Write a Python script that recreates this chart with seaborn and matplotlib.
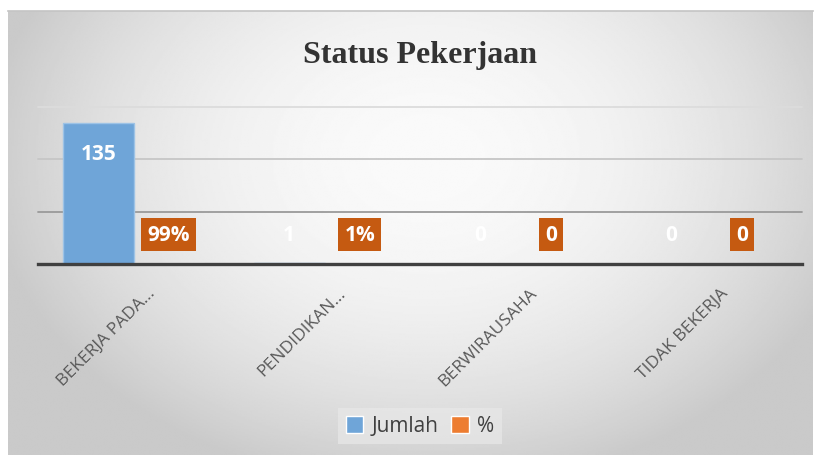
import numpy as np
import pandas as pd
import matplotlib
matplotlib.use("Agg")
import matplotlib.pyplot as plt
import matplotlib.transforms as mtransforms
import seaborn as sns

# data
kategori = ["BEKERJA PADA...", "PENDIDIKAN...", "BERWIRAUSAHA", "TIDAK BEKERJA"]
jumlah = [135, 1, 0, 0]
persen = [0.99, 0.01, 0, 0]
persen_label = ["99%", "1%", "0", "0"]
seri = ["Jumlah", "%"]
warna = {"Jumlah": "#6FA5D8", "%": "#ED7D31"}

df = pd.DataFrame({
    "kategori": kategori * 2,
    "seri": [seri[0]] * len(kategori) + [seri[1]] * len(kategori),
    "nilai": jumlah + persen,
})

sns.set_style("white")
plt.rcParams["font.family"] = ["Open Sans", "DejaVu Sans"]

W, H = 818, 456
fig = plt.figure(figsize=(W / 100, H / 100), dpi=100, facecolor="white")

# chart area with a soft radial gradient, like the Excel style
bg = fig.add_axes([8 / W, 0, (813 - 8) / W, (H - 12) / H], zorder=0)
yy, xx = np.mgrid[0:1:300j, 0:1:500j]
r = np.sqrt(((xx - 0.52) / 0.55) ** 2 + ((yy - 0.33) / 0.75) ** 2)
shade = np.clip(0.98 - 0.19 * r ** 2, 0.79, 1.0)
bg.imshow(shade, cmap="gray", vmin=0, vmax=1, extent=(0, 1, 0, 1), aspect="auto")
bg.set_xticks([])
bg.set_yticks([])
for side in ["left", "right", "bottom"]:
    bg.spines[side].set_visible(False)
bg.spines["top"].set_color("#c4c4c4")
bg.spines["top"].set_linewidth(1.2)

ax = fig.add_axes([38 / W, 191 / H, 764 / W, 157 / H], zorder=1)
ax.patch.set_alpha(0)

sns.barplot(data=df, x="kategori", y="nilai", hue="seri", palette=warna,
            width=0.74, ax=ax, saturation=1)

ax.set_ylim(0, 150)
ax.set_xlim(-0.5, len(kategori) - 0.5)
ax.set_yticks([0, 50, 100, 150])
ax.set_yticklabels([])
ax.tick_params(axis="y", length=0)
ax.tick_params(axis="x", length=0, pad=19)
ax.set_xlabel("")
ax.set_ylabel("")

grid_colors = {50: "#9a9a9a", 100: "#c6c6c6", 150: "#dcdcdc"}
for level, c in grid_colors.items():
    ax.axhline(level, color=c, lw=1.3, zorder=0.5, clip_on=False)

for side in ["left", "right", "top"]:
    ax.spines[side].set_visible(False)
ax.spines["bottom"].set_color("#404040")
ax.spines["bottom"].set_linewidth(2.4)

ax.set_xticks(range(len(kategori)))
ax.set_xticklabels(kategori, rotation=45, ha="right", va="center",
                   rotation_mode="anchor", fontsize=12.5, color="#595959")
shift = mtransforms.ScaledTranslation(19 / 100, 0, fig.dpi_scale_trans)
for lbl in ax.get_xticklabels():
    lbl.set_transform(lbl.get_transform() + shift)

# blue bars: lighter edge
for bar in ax.containers[0]:
    bar.set_edgecolor("#9DC3E6")
    bar.set_linewidth(1)

# data labels
for bar, v in zip(ax.containers[0], jumlah):
    x = bar.get_x() + bar.get_width() / 2
    ax.text(x, max(v - 29, 28), str(v), ha="center", va="center",
            color="white", fontsize=15, fontweight="bold", zorder=5)
for bar, lab in zip(ax.containers[1], persen_label):
    x = bar.get_x() + bar.get_width() / 2
    ax.text(x, 28, lab, ha="center", va="center", color="white",
            fontsize=15, fontweight="bold", zorder=5,
            bbox=dict(boxstyle="square,pad=0.3", fc="#C55A11", ec="none"))

fig.text(420 / W, 1 - 55 / H, "Status Pekerjaan", ha="center", va="center",
         fontsize=23, fontweight="bold", color="#333333",
         family="Liberation Serif")

handles, labels = ax.get_legend_handles_labels()
ax.legend(handles, labels, loc="center", bbox_to_anchor=(420 / W, 1 - 427 / H),
          bbox_transform=fig.transFigure, ncol=2, frameon=True,
          facecolor="#e8e8e8", edgecolor="none", framealpha=0.7,
          fontsize=15, handlelength=0.85, handleheight=0.85,
          handletextpad=0.4, columnspacing=0.6, borderpad=0.35,
          labelcolor="#404040", fancybox=False)

fig.savefig("out.png", dpi=100, facecolor="white")
